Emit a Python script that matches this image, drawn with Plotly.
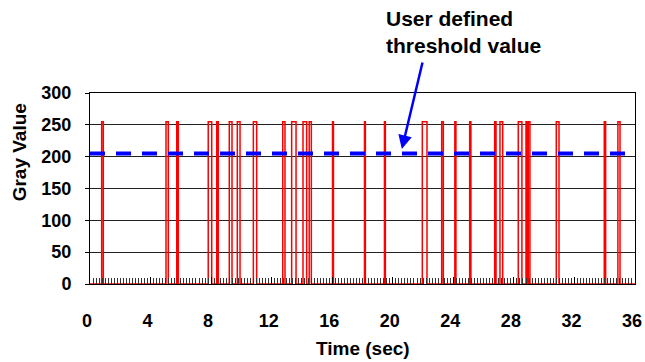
import plotly.graph_objects as go

# ---- data ----
time_sec = [0, 0.77, 0.88, 5.02, 5.17, 5.73, 5.83, 7.81, 8.04, 8.37, 8.47,
            9.20, 9.38, 9.73, 9.91, 10.79, 11.01, 12.73, 12.88, 13.32, 13.61,
            14.07, 14.31, 14.48, 14.62, 16.02, 16.08, 18.13, 18.19, 19.45, 19.51,
            21.95, 22.26, 23.23, 23.34, 24.10, 24.17, 25.08, 25.16, 26.73, 26.82,
            27.08, 27.26, 28.29, 28.53, 28.80, 28.88, 28.95, 29.06, 30.80, 30.98,
            33.97, 34.06, 34.87, 35.01, 36]
gray_value = [0, 255, 0, 255, 0, 255, 0, 255, 0, 255, 0,
              255, 0, 255, 0, 255, 0, 255, 0, 255, 0,
              255, 0, 255, 0, 255, 0, 255, 0, 255, 0,
              255, 0, 255, 0, 255, 0, 255, 0, 255, 0,
              255, 0, 255, 0, 255, 0, 255, 0, 255, 0,
              255, 0, 255, 0, 0]
threshold_time = [0, 36]
threshold_value = [205, 205]
x_ticks = [0, 4, 8, 12, 16, 20, 24, 28, 32, 36]
y_ticks = [0, 50, 100, 150, 200, 250, 300]

FONT = "Liberation Sans, Arial, sans-serif"

fig = go.Figure()
fig.add_trace(go.Scatter(x=time_sec, y=gray_value, mode="lines",
                         line=dict(color="#FF0000", width=1.5, shape="hv"),
                         showlegend=False, cliponaxis=False))
fig.add_trace(go.Scatter(x=threshold_time, y=threshold_value, mode="lines",
                         line=dict(color="#0000FF", width=4, dash="15px,11px"),
                         showlegend=False))

fig.update_layout(
    width=645, height=362,
    margin=dict(l=90, r=10, t=93, b=78, autoexpand=False),
    paper_bgcolor="white", plot_bgcolor="white",
    font=dict(family=FONT, color="black"),
    xaxis=dict(range=[0, 36], tickvals=x_ticks, ticktext=[str(v) for v in x_ticks],
               showgrid=False, zeroline=False, automargin=False,
               showline=True, linecolor="black", linewidth=1, mirror=True,
               ticks="inside", ticklen=7, tickcolor="black", tickwidth=1,
               minor=dict(dtick=0.2, tick0=0, ticks="inside", ticklen=6,
                          tickcolor="#333333", tickwidth=1, showgrid=False),
               tickfont=dict(size=18, weight="bold", family=FONT),
               ticklabelstandoff=20, ticklabeloverflow="allow",
               ticklabelshift=-3),
    yaxis=dict(range=[0, 300], tickvals=y_ticks, showgrid=True,
               gridcolor="#222222", gridwidth=1, zeroline=False, automargin=False,
               showline=True, linecolor="black", linewidth=1, mirror=True,
               ticks="outside", ticklen=4, tickcolor="black",
               tickfont=dict(size=18, weight="bold", family=FONT),
               ticklabelstandoff=10),
    annotations=[
        dict(text="Time (sec)", xref="paper", yref="paper", x=0.5, y=-0.34,
             xanchor="center", yanchor="middle", showarrow=False,
             font=dict(size=19, weight="bold", family=FONT)),
        dict(text="Gray Value", xref="paper", yref="paper", x=-0.13, y=0.69,
             xanchor="center", yanchor="middle", textangle=-90, showarrow=False,
             font=dict(size=19, weight="bold", family=FONT)),
        dict(text="User defined<br>threshold value", xref="x", yref="paper",
             x=19.45, y=1.46, xanchor="left", yanchor="top", align="left",
             showarrow=False, font=dict(size=21, weight="bold", family=FONT)),
        dict(text="", x=20.6, y=212, xref="x", yref="y", ax=21, ay=-88,
             showarrow=True, arrowhead=2, arrowsize=1.1, arrowwidth=2.5,
             arrowcolor="#0000FF"),
    ],
)

fig.write_html("out.html")
